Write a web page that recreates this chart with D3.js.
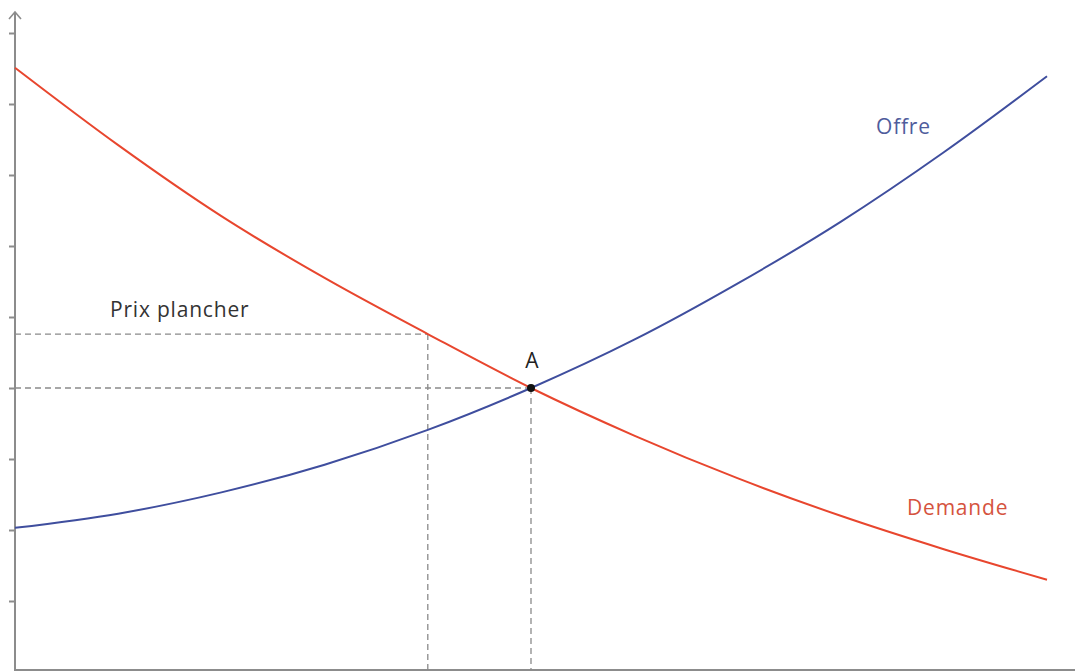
<!DOCTYPE html>
<html>
<head>
<meta charset="utf-8">
<script src="https://cdn.jsdelivr.net/npm/d3@7"></script>
<style>
  body { margin: 0; background: #fff; }
  svg { display: block; font-family: "Open Sans", "Noto Sans", sans-serif; }
</style>
</head>
<body>
<svg id="chart" width="1075" height="671"></svg>
<script>
// quantities (x) and prices
const quantities = [0, 1, 2, 3, 4, 5, 6, 7, 8, 9, 10];
const demande = [8.51, 7.42, 6.42, 5.55, 4.76, 4.00, 3.33, 2.73, 2.20, 1.73, 1.30];
const offre = [2.03, 2.23, 2.53, 2.92, 3.41, 4.00, 4.68, 5.47, 6.34, 7.32, 8.39];
const yTicks = [1, 2, 3, 4, 5, 6, 7, 8, 9];

const equilibre = { q: 5, p: 4.00 };
const plancher = { q: 4, p: 4.76 };

const svg = d3.select("svg#chart");

let x = d3.scaleLinear().domain([0, 10]).range([15, 1047]);
let y = d3.scaleLinear().domain([0, 9]).range([672, 33]);

const axisColor = "#8c8c8c";

// y axis with small ticks, no labels
let yAxis = d3.axisLeft(y).tickValues(yTicks).tickSize(6).tickFormat("");
let gy = svg.append("g")
    .attr("transform", "translate(" + x(0) + ",0)")
    .call(yAxis);
gy.select(".domain").remove();
gy.selectAll(".tick line").attr("stroke", axisColor).attr("stroke-width", 2);

svg.append("line")
    .attr("x1", x(0)).attr("x2", x(0))
    .attr("y1", 12).attr("y2", 671)
    .attr("stroke", axisColor).attr("stroke-width", 2);

// arrow head
svg.append("path")
    .attr("d", "M" + (x(0) - 6) + ",19 L" + x(0) + ",12 L" + (x(0) + 6) + ",19")
    .attr("fill", "none")
    .attr("stroke", axisColor)
    .attr("stroke-width", 1.6);

// x axis along the bottom
svg.append("line")
    .attr("x1", x(0)).attr("x2", 1075)
    .attr("y1", 670).attr("y2", 670)
    .attr("stroke", axisColor).attr("stroke-width", 2);

// dashed guides
function dashed(x1, y1, x2, y2) {
    svg.append("line")
        .attr("x1", x1).attr("y1", y1)
        .attr("x2", x2).attr("y2", y2)
        .attr("stroke", "#8a8a8a")
        .attr("stroke-width", 1.3)
        .attr("stroke-dasharray", "6,4");
}
dashed(x(0), y(plancher.p), x(plancher.q), y(plancher.p));
dashed(x(plancher.q), y(plancher.p), x(plancher.q), 670);
dashed(x(0), y(equilibre.p), x(equilibre.q), y(equilibre.p));
dashed(x(equilibre.q), y(equilibre.p), x(equilibre.q), 670);

// curves
let line = d3.line()
    .x((d, i) => x(quantities[i]))
    .y(d => y(d))
    .curve(d3.curveMonotoneX);

svg.append("path")
    .attr("d", line(demande))
    .attr("fill", "none")
    .attr("stroke", "#e8462e")
    .attr("stroke-width", 2);

svg.append("path")
    .attr("d", line(offre))
    .attr("fill", "none")
    .attr("stroke", "#3f4e9e")
    .attr("stroke-width", 2);

// equilibrium point
svg.append("circle")
    .attr("cx", x(equilibre.q))
    .attr("cy", y(equilibre.p))
    .attr("r", 4)
    .attr("fill", "#111");

svg.append("text")
    .attr("x", x(equilibre.q) + 1)
    .attr("y", y(equilibre.p) - 20)
    .attr("text-anchor", "middle")
    .attr("font-size", 21)
    .attr("fill", "#222")
    .text("A");

function label(txt, px, py, color) {
    svg.append("text")
        .attr("x", px)
        .attr("y", py)
        .attr("font-size", 21)
        .attr("letter-spacing", 0.8)
        .attr("fill", color)
        .text(txt);
}
label("Prix plancher", 110, 317, "#333");
label("Offre", 876, 134, "#4f5c9c");
label("Demande", 907, 515, "#d5533e");
</script>
</body>
</html>
